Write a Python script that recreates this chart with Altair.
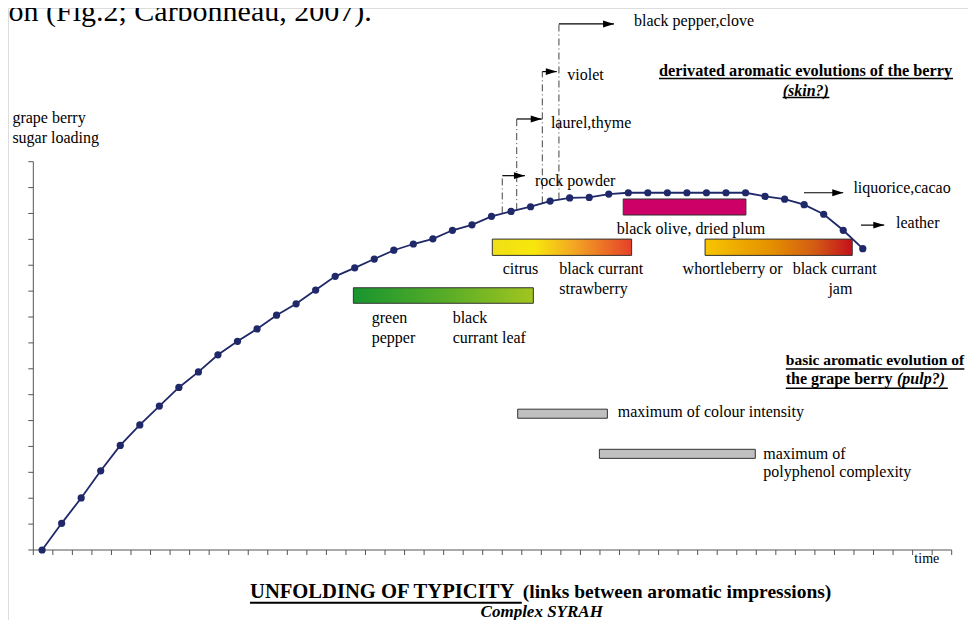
import altair as alt
import pandas as pd

# ---------------- data (x in time-tick units, y in sugar-tick units) ----------------
time_pts = [0.45, 1.45, 2.45, 3.45, 4.45, 5.45, 6.45, 7.45, 8.45, 9.45, 10.45,
            11.45, 12.45, 13.45, 14.45, 15.45, 16.45, 17.45, 18.45, 19.45, 20.45,
            21.45, 22.45, 23.45, 24.45, 25.45, 26.45, 27.45, 28.45, 29.45, 30.45,
            31.45, 32.45, 33.45, 34.45, 35.45, 36.45, 37.45, 38.45, 39.45, 40.45,
            41.45, 42.45]
sugar = [0.0, 1.03, 2.01, 3.06, 4.04, 4.83, 5.56, 6.28, 6.88, 7.54, 8.06,
         8.54, 9.07, 9.51, 10.04, 10.57, 10.90, 11.24, 11.58, 11.82, 12.02,
         12.35, 12.56, 12.89, 13.08, 13.26, 13.48, 13.60, 13.62, 13.75, 13.80,
         13.80, 13.80, 13.80, 13.80, 13.80, 13.80, 13.66, 13.55, 13.34, 12.97,
         12.35, 11.64]

x_ticks = list(range(0, 48))
y_ticks = list(range(0, 16))

bar_names = ["green", "citrus", "olive", "jam", "colour", "polyphenol"]
bar_start = [16.38, 23.49, 30.19, 34.38, 24.79, 28.97]
bar_end = [25.59, 30.62, 36.47, 41.91, 29.38, 36.95]
bar_low = [9.53, 11.38, 12.94, 11.38, 5.09, 3.54]
bar_high = [10.13, 12.01, 13.56, 12.01, 5.44, 3.89]

dd_x = [24.00, 24.74, 26.05, 26.90]
dd_bottom = [13.00, 13.13, 13.39, 13.54]
dd_top = [14.46, 16.65, 18.48, 20.32]

arr_start = [24.00, 24.74, 26.05, 26.90, 39.44, 42.36]
arr_tip = [25.16, 26.02, 26.79, 29.72, 41.45, 43.55]
arr_y = [14.46, 16.65, 18.48, 20.32, 13.80, 12.55]

normal_text = ["grape berry", "sugar loading", "black pepper,clove", "violet",
               "laurel,thyme", "rock powder", "liquorice,cacao", "leather",
               "black olive, dried plum", "citrus", "black currant", "strawberry",
               "whortleberry or", "black currant", "jam", "green", "pepper",
               "black", "currant leaf", "maximum of colour intensity",
               "maximum of", "polyphenol complexity"]
normal_x = [-1.07, -1.07, 30.74, 27.33, 26.49, 25.67, 41.97, 44.15, 29.86, 24.02,
            26.92, 26.92, 33.23, 38.86, 40.69, 17.32, 17.32, 21.46, 21.46, 29.91,
            37.36, 37.36]
normal_y = [16.48, 15.73, 20.24, 18.16, 16.29, 14.06, 13.78, 12.43, 12.20, 10.66,
            10.66, 9.89, 10.66, 10.66, 9.89, 8.78, 8.01, 8.78, 8.01, 5.15,
            3.52, 2.83]

heading_top = ["derivated aromatic evolutions of the berry"]
heading_top_pos = [32.02, 18.31]
heading_basic = ["basic aromatic evolution of"]
heading_basic_pos = [38.51, 7.15]
bold_text = ["the grape berry"]
bold_x = [38.51]
bold_y = [6.40]

bolditalic_text = ["(skin?)", "(pulp?)"]
bolditalic_x = [38.35, 44.20]
bolditalic_y = [17.55, 6.40]

ul_start = [32.02, 38.35, 38.51, 38.51]
ul_end = [47.07, 40.74, 47.65, 46.80]
ul_y = [18.21, 17.48, 6.99, 6.25]

title_parts = ["UNFOLDING OF TYPICITY", "(links between aromatic impressions)"]
title_x = [11.09, 25.05]
title_y = [-1.87, -1.87]
title_size = [20.6, 19.5]
title_ul = [11.09, 25.0, -2.04]
subtitle = ["Complex SYRAH"]
subtitle_pos = [26.02, -2.58]

top_text = ["on (Fig.2; Carbonneau, 2007)."]
top_pos = [17.32, 20.43]

time_label = ["time"]
time_pos = [45.09, -0.49]

# ---------------- scales ----------------
xs = alt.Scale(domain=[-1.295, 47.835], nice=False, zero=False)
ys = alt.Scale(domain=[-2.704, 20.937], nice=False, zero=False)


def X(f):
    return alt.X(f, type="quantitative", scale=xs, axis=None)


def Y(f):
    return alt.Y(f, type="quantitative", scale=ys, axis=None)


FONT = "Liberation Serif"
AXC = "#555555"
NAVY = "#1f2868"

layers = []

# axes lines
axes_df = pd.DataFrame({"x": [0, 0], "x2": [0, x_ticks[-1]],
                        "y": [0, 0], "y2": [y_ticks[-1], 0]})
layers.append(alt.Chart(axes_df).mark_rule(color=AXC, strokeWidth=1).encode(
    x=X("x"), x2="x2", y=Y("y"), y2="y2"))

ytk = pd.DataFrame({"y": y_ticks})
layers.append(alt.Chart(ytk).mark_rule(color=AXC, strokeWidth=1).encode(
    y=Y("y"), x=alt.value(25.3 - 5), x2=alt.value(25.3)))
xtk = pd.DataFrame({"x": x_ticks})
layers.append(alt.Chart(xtk).mark_rule(color=AXC, strokeWidth=1).encode(
    x=X("x"), y=alt.value(542), y2=alt.value(547)))

# bars
bars_df = pd.DataFrame({"name": bar_names, "x": bar_start, "x2": bar_end,
                        "y": bar_low, "y2": bar_high})


def grad(stops):
    return {"gradient": "linear", "x1": 0, "x2": 1, "y1": 0, "y2": 0,
            "stops": [{"offset": o, "color": c} for o, c in stops]}


fills = {
    "green": grad([(0, "#18952f"), (0.5, "#56ac27"), (1, "#a2c51f")]),
    "citrus": grad([(0, "#f0df16"), (0.3, "#f8e70c"), (0.6, "#f2a323"), (1, "#e6402a")]),
    "olive": "#cc0066",
    "jam": grad([(0, "#f8c500"), (0.45, "#e49000"), (0.75, "#d25a14"), (1, "#c4101c")]),
    "colour": "#c0c0c0",
    "polyphenol": "#c0c0c0",
}
for nm in bar_names:
    layers.append(alt.Chart(bars_df[bars_df["name"] == nm]).mark_rect(
        fill=fills[nm], stroke="#333333", strokeWidth=1).encode(
        x=X("x"), x2="x2", y=Y("y"), y2="y2"))

# dash-dot verticals
dd_df = pd.DataFrame({"x": dd_x, "y": dd_bottom, "y2": dd_top})
layers.append(alt.Chart(dd_df).mark_rule(color="#444444", strokeWidth=1,
                                         strokeDash=[7, 3, 1, 3]).encode(
    x=X("x"), y=Y("y"), y2="y2"))

# arrows
arr_df = pd.DataFrame({"x": arr_start, "x2": arr_tip, "y": arr_y})
arr_df["head"] = arr_df["x2"] - 0.28
layers.append(alt.Chart(arr_df).mark_rule(color="black", strokeWidth=1.2).encode(
    x=X("x"), x2="x2", y=Y("y")))
layers.append(alt.Chart(arr_df).mark_point(
    shape="M-1,-0.62L1,0L-1,0.62Z", filled=True, color="black", size=121,
    opacity=1).encode(x=X("head"), y=Y("y")))

# curve
curve_df = pd.DataFrame({"t": time_pts, "s": sugar})
layers.append(alt.Chart(curve_df).mark_line(color=NAVY, strokeWidth=1.8).encode(
    x=X("t"), y=Y("s")))
layers.append(alt.Chart(curve_df).mark_point(filled=True, color=NAVY, size=52,
                                             opacity=1).encode(x=X("t"), y=Y("s")))


def text_layer(texts, xv, yv, size, align="left", weight="normal", style="normal"):
    df = pd.DataFrame({"t": texts, "x": xv, "y": yv})
    return alt.Chart(df).mark_text(align=align, baseline="alphabetic", font=FONT,
                                   fontSize=size, fontWeight=weight,
                                   fontStyle=style, color="black").encode(
        x=X("x"), y=Y("y"), text="t:N")


layers.append(text_layer(normal_text, normal_x, normal_y, 16))
layers.append(text_layer(heading_top, [heading_top_pos[0]], [heading_top_pos[1]],
                         16.3, weight="bold"))
layers.append(text_layer(heading_basic, [heading_basic_pos[0]],
                         [heading_basic_pos[1]], 15.5, weight="bold"))
layers.append(text_layer(bold_text, bold_x, bold_y, 16, weight="bold"))
layers.append(text_layer(bolditalic_text, bolditalic_x, bolditalic_y, 16,
                         weight="bold", style="italic"))
ul = pd.DataFrame({"x": ul_start, "x2": ul_end, "y": ul_y})
layers.append(alt.Chart(ul).mark_rule(color="black", strokeWidth=1.5).encode(
    x=X("x"), x2="x2", y=Y("y")))

layers.append(text_layer(time_label, [time_pos[0]], [time_pos[1]], 14))

for txt, xv, yv, sz in zip(title_parts, title_x, title_y, title_size):
    layers.append(text_layer([txt], [xv], [yv], sz, weight="bold"))
tul = pd.DataFrame({"x": [title_ul[0]], "x2": [title_ul[1]], "y": [title_ul[2]]})
layers.append(alt.Chart(tul).mark_rule(color="black", strokeWidth=2).encode(
    x=X("x"), x2="x2", y=Y("y")))
layers.append(text_layer(subtitle, [subtitle_pos[0]], [subtitle_pos[1]], 17,
                         align="center", weight="bold", style="italic"))

layers.append(text_layer(top_text, [top_pos[0]], [top_pos[1]], 30, align="right"))

chart = alt.layer(*layers).properties(
    width=960, height=612, padding=0,
    autosize=alt.AutoSizeParams(type="none"),
).configure_view(stroke=None).configure(background="white")

chart.save("out.html", embed_options={"renderer": "svg", "actions": False})
